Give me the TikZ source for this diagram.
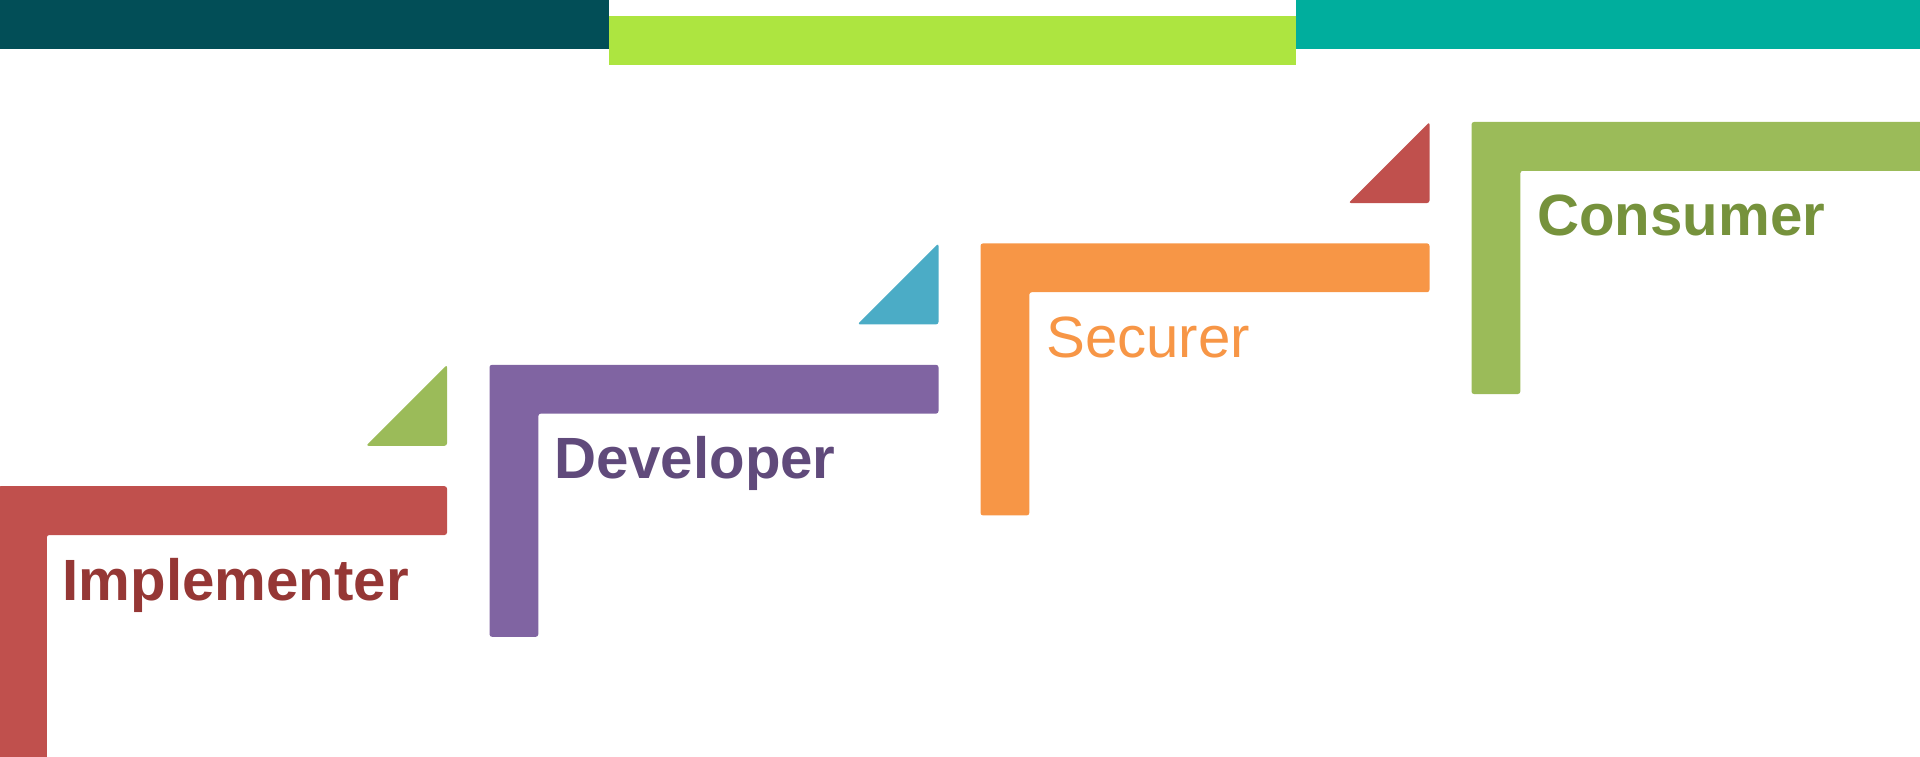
\documentclass[tikz,border=0pt]{standalone}
\usepackage{fontspec}
\setmainfont{Liberation Sans}
\definecolor{bandDark}{HTML}{024E57}
\definecolor{bandLime}{HTML}{ADE540}
\definecolor{bandTeal}{HTML}{00AE9D}
\definecolor{redBar}{HTML}{C0504D}
\definecolor{redText}{HTML}{953735}
\definecolor{greenBar}{HTML}{9BBB59}
\definecolor{greenText}{HTML}{76923C}
\definecolor{purpleBar}{HTML}{8064A2}
\definecolor{purpleText}{HTML}{604A7B}
\definecolor{orangeBar}{HTML}{F79646}
\definecolor{cyanTri}{HTML}{4BACC6}
\tikzset{
  stepshape/.style={fill=#1, rounded corners=2.5pt},
  steplabel/.style={anchor=base west, inner sep=0pt, text=#1,
    font=\fontsize{58.2}{60}\selectfont\bfseries},
  steplabelthin/.style={anchor=base west, inner sep=0pt, text=#1,
    font=\fontsize{58.2}{60}\selectfont},
}
\begin{document}
\begin{tikzpicture}[x=1pt,y=-1pt]
\useasboundingbox (0,0) rectangle (1920,757);
\clip (0,0) rectangle (1920,757);

% header bands
\fill[bandDark] (0,0) rectangle (608.6,49.5);
\fill[bandLime] (608.6,16.5) rectangle (1295.5,65.5);
\fill[bandTeal] (1295.5,0) rectangle (1920,49.5);

% L-shaped steps: left x, top y, thickness 48.8, arm 449, leg 272
% Implementer
\fill[stepshape=redBar] (-2,486.2) -- (447,486.2) -- (447,535) -- (46.8,535)
  -- (46.8,790) -- (-2,790) -- cycle;
% Developer
\fill[stepshape=purpleBar] (489.5,364.8) -- (938.5,364.8) -- (938.5,413.6) -- (538.3,413.6)
  -- (538.3,636.8) -- (489.5,636.8) -- cycle;
% Securer
\fill[stepshape=orangeBar] (980.5,243.4) -- (1429.5,243.4) -- (1429.5,292.2) -- (1029.3,292.2)
  -- (1029.3,515.4) -- (980.5,515.4) -- cycle;
% Consumer
\fill[stepshape=greenBar] (1471.5,122) -- (1930,122) -- (1930,170.8) -- (1520.3,170.8)
  -- (1520.3,394) -- (1471.5,394) -- cycle;

% corner triangles
\fill[stepshape=greenBar] (447,364.8) -- (447,445.8) -- (366,445.8) -- cycle;
\fill[stepshape=cyanTri] (938.5,243.4) -- (938.5,324.4) -- (857.5,324.4) -- cycle;
\fill[stepshape=redBar] (1429.5,122) -- (1429.5,203) -- (1348.5,203) -- cycle;

% labels
\node[steplabel=redText] (impl) at (62.5,600) {Implementer};
\node[steplabel=purpleText] (dev) at (554,478.5) {Developer};
\node[steplabelthin=orangeBar] (sec) at (1046,357) {Securer};
\node[steplabel=greenText] (cons) at (1537,235.6) {Consumer};
\end{tikzpicture}
\end{document}
